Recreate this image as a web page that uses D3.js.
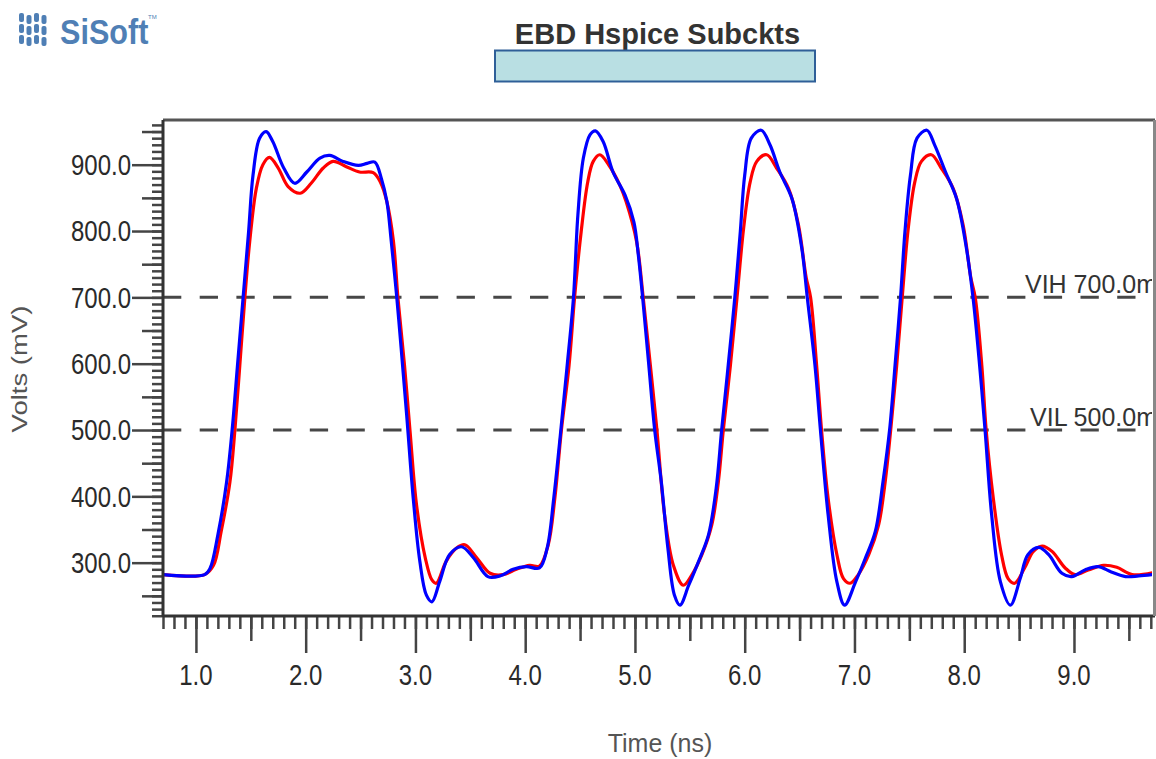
<!DOCTYPE html>
<html><head><meta charset="utf-8">
<script src="https://cdn.jsdelivr.net/npm/d3@7"></script>
<style>
body{margin:0;background:#fff;}
svg{display:block;font-family:"Liberation Sans",Arial,Helvetica,sans-serif;}
</style>
</head><body>
<svg id="chart" width="1156" height="759"></svg>
<script>
// ---------------- data (time in ns, voltage in mV) ----------------
const chartTitle = "EBD Hspice Subckts";
const xAxisTitle = "Time (ns)";
const yAxisTitle = "Volts (mV)";
const xTickLabels = ["1.0","2.0","3.0","4.0","5.0","6.0","7.0","8.0","9.0"];
const yTickLabels = ["300.0","400.0","500.0","600.0","700.0","800.0","900.0"];
const thresholdNames = ["VIH 700.0m","VIL 500.0m"];
const thresholdValues = [700, 500];

const blueWave = [
 [0.70,282],[1.08,282],[1.13,292],[1.20,342],[1.28,422],[1.33,500],[1.38,600],[1.43,700],[1.48,799],[1.52,884],
 [1.58,940],[1.64,950],[1.70,935],[1.80,895],[1.90,872],[2.01,889],[2.13,910],[2.22,914],[2.34,905],[2.48,899],
 [2.56,902],[2.63,904],[2.69,879],[2.74,844],[2.78,784],[2.83,700],[2.87,623],[2.92,523],[2.98,397],[3.04,302],
 [3.10,251],[3.15,241],[3.22,271],[3.31,312],[3.42,324],[3.53,307],[3.66,279],[3.77,280],[3.89,290],[4.01,294],
 [4.13,292],[4.20,322],[4.26,397],[4.32,492],[4.38,593],[4.44,700],[4.48,824],[4.53,910],[4.59,945],[4.64,951],
 [4.71,935],[4.80,889],[4.91,854],[4.99,814],[5.03,765],[5.07,700],[5.125,600],[5.18,500],[5.24,422],[5.30,322],
 [5.36,251],[5.41,236],[5.49,266],[5.58,302],[5.67,342],[5.74,412],[5.79,500],[5.85,598],[5.91,700],[5.96,799],
 [6.00,884],[6.06,940],[6.15,952],[6.23,930],[6.32,889],[6.43,849],[6.52,774],[6.57,700],[6.64,598],[6.69,500],
 [6.76,372],[6.84,271],[6.91,236],[7.01,271],[7.10,307],[7.19,347],[7.26,422],[7.32,500],[7.37,598],[7.42,700],
 [7.46,799],[7.51,884],[7.57,940],[7.66,952],[7.73,930],[7.83,889],[7.93,849],[8.02,774],[8.08,700],[8.14,598],
 [8.19,500],[8.25,372],[8.33,271],[8.42,236],[8.51,276],[8.58,312],[8.68,323],[8.77,312],[8.89,284],[8.98,279],
 [9.10,289],[9.22,294],[9.34,286],[9.47,279],[9.59,280],[9.72,282]
];

const redWave = [
 [0.70,282],[1.08,282],[1.16,296],[1.23,347],[1.31,422],[1.355,500],[1.40,598],[1.446,700],[1.49,784],[1.55,864],
 [1.61,900],[1.67,911],[1.75,895],[1.84,867],[1.95,857],[2.05,872],[2.16,895],[2.25,905],[2.37,897],[2.49,889],
 [2.615,888],[2.68,874],[2.74,844],[2.80,784],[2.84,700],[2.90,598],[2.95,500],[3.01,387],[3.09,307],[3.15,274],
 [3.19,269],[3.28,302],[3.375,322],[3.45,327],[3.56,307],[3.68,284],[3.80,282],[3.92,290],[4.04,296],[4.13,295],
 [4.21,327],[4.27,397],[4.33,500],[4.40,598],[4.45,700],[4.51,799],[4.57,874],[4.62,905],[4.68,915],[4.76,900],
 [4.86,870],[4.92,844],[5.015,784],[5.075,700],[5.14,598],[5.20,500],[5.27,372],[5.35,296],[5.44,266],[5.52,282],
 [5.61,312],[5.70,357],[5.76,422],[5.805,500],[5.87,598],[5.93,700],[5.99,804],[6.05,874],[6.11,905],[6.20,915],
 [6.29,895],[6.40,864],[6.49,809],[6.56,730],[6.60,700],[6.655,598],[6.70,500],[6.76,397],[6.84,312],[6.90,276],
 [6.96,269],[7.035,282],[7.13,312],[7.22,357],[7.28,422],[7.33,500],[7.385,598],[7.435,700],[7.49,804],[7.55,874],
 [7.61,905],[7.70,915],[7.79,895],[7.90,864],[7.99,809],[8.06,730],[8.10,700],[8.16,598],[8.20,500],[8.265,397],
 [8.34,312],[8.40,276],[8.46,269],[8.55,292],[8.63,317],[8.71,325],[8.80,317],[8.92,292],[9.01,282],[9.13,289],
 [9.27,296],[9.39,293],[9.53,282],[9.72,285]
];

// ---------------- layout ----------------
const P = {left:163, right:1153, top:120, bottom:616};
const svg = d3.select("#chart");
const x = d3.scaleLinear().domain([0.70, 9.72]).range([P.left, P.right]);
const y = d3.scaleLinear().domain([219.6, 967.4]).range([P.bottom, P.top]);

svg.append("defs").append("clipPath").attr("id","plotClip")
  .append("rect").attr("x",P.left).attr("y",P.top)
  .attr("width",P.right-P.left-1).attr("height",P.bottom-P.top);

// ---------------- logo ----------------
const logo = svg.append("g").attr("fill","#4f7fb5");
[0,1,2,3].forEach(i=>{
  const cx = 19 + i*7.5;
  const off = (i%2)*2;
  [[13+off,9],[24+off,9],[35+off,9]].forEach(s=>{
    logo.append("rect").attr("x",cx).attr("y",s[0]).attr("width",5).attr("height",s[1]).attr("rx",2);
  });
});
logo.append("text").attr("transform","translate(60,44) scale(0.85,1)")
  .attr("font-size",36).attr("font-weight","bold").text("SiSoft");
logo.append("text").attr("x",148).attr("y",19).attr("font-size",6).text("TM");

// ---------------- title + box ----------------
svg.append("text").attr("x",657.5).attr("y",43.5).attr("text-anchor","middle")
  .attr("font-size",29).attr("font-weight","bold").attr("fill","#333").text(chartTitle);
svg.append("rect").attr("x",495).attr("y",50.5).attr("width",320).attr("height",31)
  .attr("fill","#b9dfe3").attr("stroke","#2f5f98").attr("stroke-width",2);

// ---------------- axes ticks ----------------
const tickColor = "#444";
const xMinor = d3.range(7, 98).map(d=>d/10);
const xMed = d3.range(1, 20).map(d=>d/2).filter(d=>d>=0.7 && d<=9.72 && d%1!==0);
const xMajor = d3.range(1, 10);
function styleAxis(g){ g.select(".domain").remove(); g.selectAll("line").attr("stroke",tickColor).attr("stroke-width",2.5); }
svg.append("g").attr("transform",`translate(0,${P.bottom})`)
  .call(d3.axisBottom(x).tickValues(xMinor).tickSize(13).tickFormat("")).call(styleAxis);
svg.append("g").attr("transform",`translate(0,${P.bottom})`)
  .call(d3.axisBottom(x).tickValues(xMed).tickSize(25).tickFormat("")).call(styleAxis);
svg.append("g").attr("transform",`translate(0,${P.bottom})`)
  .call(d3.axisBottom(x).tickValues(xMajor).tickSize(37).tickFormat("")).call(styleAxis);

const yMinor = d3.range(22, 97).map(d=>d*10);
const yMed = d3.range(250, 961, 100);
const yMajor = d3.range(300, 901, 100);
svg.append("g").attr("transform",`translate(${P.left},0)`)
  .call(d3.axisLeft(y).tickValues(yMinor).tickSize(11).tickFormat("")).call(styleAxis);
svg.append("g").attr("transform",`translate(${P.left},0)`)
  .call(d3.axisLeft(y).tickValues(yMed).tickSize(21).tickFormat("")).call(styleAxis);
svg.append("g").attr("transform",`translate(${P.left},0)`)
  .call(d3.axisLeft(y).tickValues(yMajor).tickSize(31).tickFormat("")).call(styleAxis);

svg.append("g").selectAll("text").data(xMajor).join("text")
  .attr("transform",d=>`translate(${x(d)},685) scale(1,1.2)`)
  .attr("text-anchor","middle").attr("font-size",24).attr("fill","#2a2a2a")
  .text((d,i)=>xTickLabels[i]);
svg.append("g").selectAll("text").data(yMajor).join("text")
  .attr("transform",d=>`translate(131,${y(d)+10.3}) scale(1,1.2)`)
  .attr("text-anchor","end").attr("font-size",24).attr("fill","#2a2a2a")
  .text((d,i)=>yTickLabels[i]);

svg.append("text").attr("x",660).attr("y",752).attr("text-anchor","middle")
  .attr("font-size",25).attr("fill","#555").text(xAxisTitle);
svg.append("text").attr("transform","translate(27,369) rotate(-90) scale(1.25,1)")
  .attr("text-anchor","middle").attr("font-size",22).attr("fill","#555").text(yAxisTitle);

// ---------------- plot content ----------------
const plotG = svg.append("g").attr("clip-path","url(#plotClip)");

plotG.selectAll("line.thr").data(thresholdValues).join("line").attr("class","thr")
  .attr("x1",P.left).attr("x2",P.right).attr("y1",d=>y(d)).attr("y2",d=>y(d))
  .attr("stroke","#474747").attr("stroke-width",3).attr("stroke-dasharray","18.3,18.4");

const line = d3.line().x(d=>x(d[0])).y(d=>y(d[1])).curve(d3.curveCatmullRom.alpha(0.5));
plotG.append("path").datum(redWave).attr("d",line)
  .attr("fill","none").attr("stroke","#ff0000").attr("stroke-width",3.2).attr("stroke-linejoin","round");
plotG.append("path").datum(blueWave).attr("d",line)
  .attr("fill","none").attr("stroke","#0000ff").attr("stroke-width",3.2).attr("stroke-linejoin","round");

plotG.selectAll("text.thr").data(thresholdValues).join("text").attr("class","thr")
  .attr("x",1157).attr("y",d=>y(d)-4).attr("text-anchor","end")
  .attr("font-size",25).attr("fill","#333").text((d,i)=>thresholdNames[i]);

// ---------------- frame ----------------
svg.append("line").attr("x1",P.left).attr("x2",P.right+2).attr("y1",P.top).attr("y2",P.top)
  .attr("stroke","#555").attr("stroke-width",3);
svg.append("line").attr("x1",P.left).attr("x2",P.left).attr("y1",P.top).attr("y2",P.bottom+1)
  .attr("stroke","#333").attr("stroke-width",3);
svg.append("line").attr("x1",P.left).attr("x2",P.right+2).attr("y1",P.bottom).attr("y2",P.bottom)
  .attr("stroke","#333").attr("stroke-width",3);
svg.append("line").attr("x1",P.right+1.5).attr("x2",P.right+1.5).attr("y1",P.top).attr("y2",P.bottom)
  .attr("stroke","#888").attr("stroke-width",3);
</script>
</body></html>
